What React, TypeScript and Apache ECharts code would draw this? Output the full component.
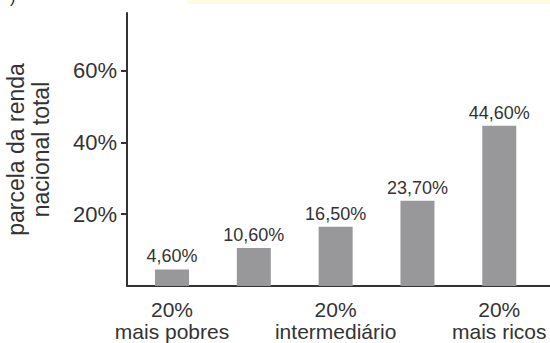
import React, { useEffect, useRef } from "react";
import * as echarts from "echarts";

const groups = ["mais pobres", "segundo", "intermediário", "quarto", "mais ricos"];
const shares = [4.6, 10.6, 16.5, 23.7, 44.6];
const xLabelTop = ["20%", "20%", "20%"];
const xLabelBottom = ["mais pobres", "intermediário", "mais ricos"];
const xLabelPositions = [0, 2, 4];
const yTicks = [20, 40, 60];

const FONT = "'Liberation Sans', Arial, Helvetica, sans-serif";
const TEXT = "#333333";

export default function App() {
  const ref = useRef<HTMLDivElement>(null);
  useEffect(() => {
    if (!ref.current) return;
    const chart = echarts.init(ref.current, null, { renderer: "svg" });
    chart.setOption({
      animation: false,
      backgroundColor: "#ffffff",
      textStyle: { fontFamily: FONT },
      graphic: [
        { type: "rect", shape: { x: 187, y: 0, width: 363, height: 4 }, style: { fill: "#fffbe3" } },
        { type: "text", left: 10, top: -11, style: { text: ")", fontSize: 16, fill: "#222", fontFamily: FONT } },
      ],
      grid: { left: 127, right: 0, top: 13, bottom: 57, outerBoundsMode: "none" },
      xAxis: {
        type: "value",
        min: -0.55,
        max: 4.62,
        splitLine: { show: false },
        axisTick: { show: false },
        axisLine: { show: true, onZero: false, lineStyle: { color: TEXT, width: 2 } },
        axisLabel: {
          customValues: xLabelPositions,
          showMinLabel: true,
          showMaxLabel: true,
          fontSize: 21,
          lineHeight: 22,
          margin: 12,
          color: TEXT,
          formatter: (v: number) => {
            const i = xLabelPositions.indexOf(Math.round(v));
            return i >= 0 ? xLabelTop[i] + "\n" + xLabelBottom[i] : "";
          },
        },
      },
      yAxis: {
        type: "value",
        min: 0,
        max: 76,
        splitLine: { show: false },
        axisLine: { show: true, onZero: false, lineStyle: { color: TEXT, width: 2 } },
        axisTick: { show: true, customValues: yTicks, length: 6, lineStyle: { color: TEXT, width: 2 } },
        axisLabel: {
          customValues: yTicks,
          formatter: "{value}%",
          fontSize: 22,
          margin: 10,
          color: TEXT,
        },
        name: "parcela da renda\nnacional total",
        nameLocation: "middle",
        nameRotate: 90,
        nameGap: 74,
        nameTextStyle: { fontSize: 23, lineHeight: 25, color: TEXT, align: "center" },
      },
      series: [
        {
          type: "bar",
          name: "parcela",
          barWidth: 34,
          data: shares.map((v, i) => ({ value: [i, v], name: groups[i] })),
          itemStyle: { color: "#98989b" },
          label: {
            show: true,
            position: "top",
            distance: 4,
            fontSize: 18,
            color: TEXT,
            formatter: (p: any) => p.value[1].toFixed(2).replace(".", ",") + "%",
          },
        },
      ],
    });
    return () => chart.dispose();
  }, []);
  return (
    <div
      ref={ref}
      style={{ position: "fixed", left: 0, top: 0, width: 550, height: 343 }}
    />
  );
}
